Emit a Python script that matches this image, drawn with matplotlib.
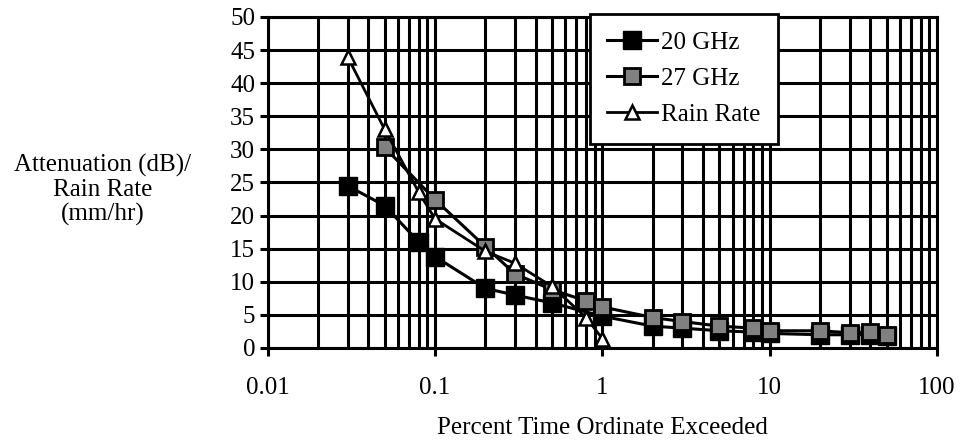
import matplotlib
matplotlib.use("Agg")
import matplotlib.pyplot as plt
from matplotlib.ticker import FixedLocator, LogLocator, NullFormatter

# percent time ordinate exceeded
pct_20 = [0.03, 0.05, 0.08, 0.1, 0.2, 0.3, 0.5, 1, 2, 3, 5, 8, 10, 20, 30, 40, 50]
att_20 = [24.5, 21.5, 16, 13.8, 9, 8, 6.8, 4.8, 3.3, 3, 2.6, 2.4, 2.2, 2, 2, 2, 1.8]

pct_27 = [0.05, 0.1, 0.2, 0.3, 0.5, 0.8, 1, 2, 3, 5, 8, 10, 20, 30, 40, 50]
att_27 = [30.3, 22.4, 15.3, 11.2, 8.8, 7.1, 6.2, 4.6, 4, 3.3, 3, 2.6, 2.6, 2.3, 2.4, 2]

pct_rain = [0.03, 0.05, 0.08, 0.1, 0.2, 0.3, 0.5, 0.8, 1]
rain_rate = [44, 33, 23.5, 19.5, 14.6, 12.8, 9.3, 4.6, 1.4]

y_ticks = list(range(0, 55, 5))
x_ticks = [0.01, 0.1, 1, 10, 100]
x_labels = ["0.01", "0.1", "1", "10", "100"]

plt.rcParams["font.family"] = ["Liberation Serif", "DejaVu Serif"]

fig = plt.figure(figsize=(9.63, 4.45), dpi=100)
ax = fig.add_axes([0.278, 0.218, 0.695, 0.744])

ax.set_xscale("log")
ax.set_xlim(0.01, 100)
ax.set_ylim(0, 50)

# heavy black grid like the scanned original
ax.xaxis.set_major_locator(FixedLocator(x_ticks))
ax.xaxis.set_minor_locator(LogLocator(base=10, subs=range(2, 10)))
ax.xaxis.set_minor_formatter(NullFormatter())
ax.set_xticklabels(x_labels)
ax.set_yticks(y_ticks)
ax.grid(True, which="major", color="black", linewidth=2.2)
ax.grid(True, which="minor", axis="x", color="black", linewidth=2.2)
ax.set_axisbelow(True)

for side in ["left", "bottom", "right", "top"]:
    ax.spines[side].set_linewidth(2.2)

ax.tick_params(axis="y", which="major", direction="out", length=6, width=2.2,
               labelsize=18, pad=3)
ax.tick_params(axis="x", which="major", direction="out", length=6, width=2.2,
               labelsize=18, pad=15)
ax.tick_params(axis="x", which="minor", length=0)

ax.plot(pct_20, att_20, color="black", lw=2.2, marker="s", ms=13,
        mfc="black", mec="black", label="20 GHz", zorder=3)
ax.plot(pct_27, att_27, color="black", lw=2.2, marker="s", ms=11,
        mfc="#808080", mec="black", mew=2, label="27 GHz", zorder=4)
ax.plot(pct_rain, rain_rate, color="black", lw=2, marker="^", ms=10,
        mfc="white", mec="black", mew=1.8, label="Rain Rate", zorder=5)

leg = ax.legend(loc="upper left", bbox_to_anchor=(0.481, 1.01), fontsize=18,
                frameon=True, fancybox=False, framealpha=1, edgecolor="black",
                handlelength=2.0, handletextpad=0.15, borderpad=0.7,
                labelspacing=0.55, borderaxespad=0)
leg.get_frame().set_linewidth(2)

fig.text(0.107, 0.573, "Attenuation (dB)/\nRain Rate\n(mm/hr)", ha="center",
         va="center", fontsize=18, linespacing=1.1)
fig.text(0.626, 0.038, "Percent Time Ordinate Exceeded", ha="center",
         va="center", fontsize=18)

fig.savefig("out.png", dpi=100)
